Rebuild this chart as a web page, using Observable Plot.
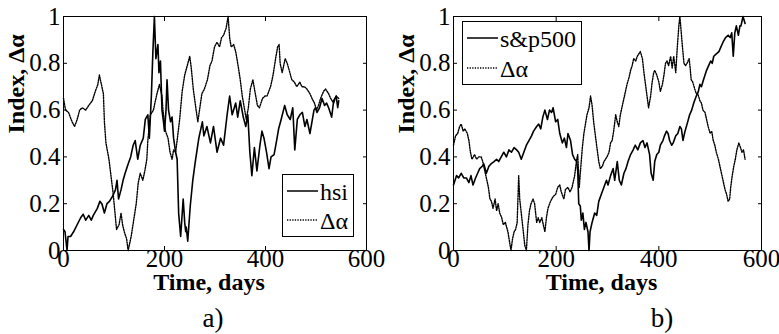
<!DOCTYPE html>
<html>
<head>
<meta charset="utf-8">
<script src="https://cdn.jsdelivr.net/npm/d3@7"></script>
<script src="https://cdn.jsdelivr.net/npm/@observablehq/plot@0.6"></script>
<style>
  body { margin: 0; background: #fff; }
  #wrap { position: relative; width: 779px; height: 334px; overflow: hidden; font-family: "Liberation Serif", "Times New Roman", Times, serif; color: #000; }
  .panel { position: absolute; top: 0; }
  .panel svg, .panel svg text { font-family: "Liberation Serif", "Times New Roman", Times, serif !important; }
  .legend { position: absolute; box-sizing: border-box; border: 1.3px solid #000; background: #fff; }
  .legend svg { position: absolute; left: 0; top: 0; overflow: visible; }
  .legend svg text { font-family: "Liberation Serif", "Times New Roman", Times, serif; }
  .cap { position: absolute; font-size: 27px; line-height: 1; }
</style>
</head>
<body>
<div id="wrap">
  <div class="panel" id="pa" style="left:0px"></div>
  <div class="panel" id="pb" style="left:389px"></div>
</div>
<script>
// ---------- data ----------
const xTicks = [0, 200, 400, 600];
const yTicks = [0, 0.2, 0.4, 0.6, 0.8, 1];

// Panel a) : hsi index (solid)
const hsiDays = [0,3,6,7,9,14,20,27,34,39,44,50,55,59,67,72,76,81,86,91,98,103,106,109,114,118,122,128,133,138,142,147,152,158,162,167,170,174,177,180,183,187,189,192,195,198,200,203,205,208,212,215,218,222,225,228,232,237,240,242,243,246,251,256,261,268,275,278,284,291,297,304,311,317,324,329,334,341,345,350,356,361,365,369,373,378,383,389,393,397,402,407,411,417,422,426,431,438,443,449,454,458,463,468,473,478,482,488,492,496,499,502,507,512,517,521,525,531,535,540,543,545];
const hsiValues = [0.09,0.08,0.02,0.0,0.06,0.06,0.08,0.11,0.14,0.155,0.13,0.15,0.13,0.15,0.18,0.21,0.2,0.16,0.2,0.21,0.235,0.26,0.3,0.22,0.26,0.3,0.33,0.37,0.4,0.45,0.47,0.39,0.45,0.48,0.56,0.58,0.48,0.66,0.85,1.0,0.82,0.88,0.76,0.81,0.6,0.55,0.51,0.6,0.73,0.6,0.55,0.57,0.48,0.42,0.39,0.16,0.06,0.22,0.12,0.08,0.1,0.04,0.19,0.3,0.38,0.48,0.55,0.49,0.53,0.46,0.53,0.42,0.48,0.45,0.58,0.66,0.58,0.63,0.57,0.64,0.57,0.53,0.58,0.42,0.32,0.44,0.34,0.45,0.51,0.48,0.42,0.35,0.4,0.41,0.47,0.52,0.56,0.62,0.58,0.56,0.61,0.43,0.56,0.58,0.59,0.53,0.56,0.5,0.55,0.6,0.61,0.59,0.61,0.65,0.62,0.63,0.61,0.57,0.64,0.66,0.61,0.64];

// Panel a) : delta alpha (dotted)
const alphaADays = [0,4,10,17,22,27,32,37,44,50,57,63,68,71,75,79,81,84,90,94,98,102,105,110,114,117,121,125,128,131,134,139,144,148,152,157,161,165,167,172,178,185,190,195,197,202,207,211,215,218,222,225,230,235,240,245,250,253,257,262,266,270,274,279,285,290,294,299,304,309,313,317,322,326,329,332,337,341,345,350,354,358,362,366,370,375,379,384,388,394,399,403,410,415,420,424,427,429,433,436,439,443,447,452,457,462,468,472,477,482,488,492,497,501,505,509,515,519,525,529,535,540,545];
const alphaAValues = [0.65,0.6,0.59,0.55,0.53,0.56,0.6,0.61,0.6,0.62,0.64,0.68,0.71,0.75,0.71,0.67,0.55,0.46,0.39,0.32,0.25,0.16,0.09,0.11,0.16,0.11,0.075,0.05,0.0,0.03,0.06,0.13,0.2,0.29,0.33,0.3,0.34,0.39,0.47,0.58,0.6,0.67,0.71,0.66,0.6,0.51,0.48,0.42,0.39,0.43,0.42,0.47,0.56,0.68,0.75,0.79,0.83,0.78,0.69,0.61,0.55,0.61,0.67,0.69,0.73,0.79,0.81,0.87,0.89,0.87,0.91,0.92,0.95,1.0,0.91,0.87,0.88,0.85,0.8,0.73,0.66,0.61,0.56,0.61,0.69,0.73,0.68,0.62,0.61,0.65,0.66,0.66,0.7,0.75,0.82,0.87,0.88,0.8,0.76,0.79,0.82,0.8,0.77,0.73,0.72,0.7,0.72,0.7,0.7,0.69,0.67,0.65,0.63,0.6,0.62,0.65,0.68,0.69,0.67,0.65,0.63,0.66,0.65];

// Panel b) : s&p500 index (solid)
const spDays = [0,6,10,15,20,25,30,34,38,43,47,51,56,59,64,69,73,79,84,88,93,98,103,108,113,118,123,127,132,137,142,147,152,156,162,166,170,174,178,183,187,191,194,199,203,207,212,216,220,223,228,232,236,240,242,244,247,249,252,255,258,262,264,266,270,275,279,283,288,293,298,301,306,311,314,319,323,327,332,336,340,345,350,354,359,364,369,373,377,382,385,389,392,396,400,403,408,411,415,418,421,425,428,433,437,441,444,447,451,455,460,464,468,473,477,480,483,487,490,493,497,501,504,507,512,517,521,525,530,535,539,542,545,548,551,555,558,560,564,568];
const spValues = [0.28,0.32,0.31,0.33,0.31,0.31,0.29,0.32,0.28,0.31,0.33,0.35,0.36,0.37,0.33,0.36,0.37,0.38,0.39,0.38,0.4,0.42,0.4,0.43,0.42,0.44,0.43,0.42,0.39,0.42,0.45,0.47,0.49,0.51,0.53,0.54,0.52,0.57,0.6,0.56,0.6,0.59,0.61,0.55,0.56,0.5,0.46,0.48,0.44,0.5,0.47,0.41,0.39,0.38,0.34,0.2,0.19,0.13,0.16,0.09,0.12,0.08,0.0,0.08,0.12,0.16,0.15,0.21,0.24,0.27,0.3,0.28,0.32,0.35,0.3,0.38,0.3,0.28,0.33,0.35,0.38,0.41,0.43,0.45,0.43,0.46,0.47,0.44,0.46,0.41,0.33,0.3,0.38,0.41,0.42,0.45,0.47,0.49,0.51,0.5,0.47,0.45,0.46,0.49,0.5,0.53,0.52,0.47,0.51,0.54,0.58,0.6,0.63,0.66,0.68,0.71,0.7,0.73,0.75,0.77,0.79,0.81,0.8,0.83,0.84,0.85,0.87,0.89,0.91,0.92,0.91,0.93,0.83,0.93,0.96,0.92,0.96,0.96,1.0,0.97];

// Panel b) : delta alpha (dotted)
const alphaBDays = [0,4,8,12,15,19,22,27,30,33,36,41,45,49,54,57,60,64,68,71,74,77,81,84,87,90,94,97,101,106,109,112,115,118,121,124,127,129,133,136,139,142,145,148,151,155,158,162,165,168,172,175,178,181,184,189,194,199,203,207,210,215,218,223,227,231,236,240,242,245,247,251,254,257,260,264,267,270,273,277,280,283,286,290,293,296,299,303,306,309,312,316,319,322,325,329,332,335,338,342,345,348,351,355,358,361,364,368,371,374,377,380,384,387,390,392,396,400,403,407,410,413,416,419,423,426,429,433,436,439,441,443,446,449,452,455,459,461,463,466,470,473,476,480,483,486,490,493,496,500,503,506,509,512,516,519,522,526,529,532,535,538,540,543,546,549,552,556,559,562,565,568];
const alphaBValues = [0.45,0.49,0.5,0.53,0.54,0.51,0.52,0.5,0.47,0.42,0.39,0.41,0.39,0.4,0.4,0.38,0.35,0.31,0.27,0.22,0.21,0.18,0.22,0.17,0.2,0.16,0.14,0.11,0.12,0.08,0.04,0.0,0.05,0.08,0.09,0.12,0.32,0.22,0.14,0.08,0.02,0.0,0.11,0.17,0.2,0.22,0.2,0.12,0.14,0.12,0.14,0.11,0.08,0.14,0.18,0.21,0.23,0.24,0.27,0.28,0.25,0.22,0.26,0.27,0.25,0.27,0.32,0.39,0.41,0.27,0.33,0.44,0.5,0.54,0.58,0.61,0.66,0.62,0.55,0.48,0.43,0.38,0.35,0.36,0.38,0.39,0.4,0.42,0.46,0.47,0.51,0.58,0.55,0.53,0.58,0.62,0.65,0.68,0.71,0.74,0.77,0.79,0.82,0.81,0.83,0.84,0.85,0.82,0.76,0.71,0.66,0.61,0.66,0.72,0.76,0.77,0.75,0.72,0.68,0.71,0.75,0.8,0.81,0.79,0.83,0.78,0.83,0.76,0.87,0.96,1.0,0.95,0.87,0.8,0.79,0.8,0.82,0.78,0.73,0.72,0.69,0.67,0.67,0.64,0.63,0.6,0.59,0.56,0.53,0.5,0.51,0.47,0.45,0.42,0.39,0.36,0.33,0.29,0.26,0.24,0.21,0.22,0.27,0.32,0.36,0.39,0.43,0.46,0.44,0.42,0.43,0.39];

// ---------- drawing ----------
const zip = (days, vals) => days.map((t, i) => ({t, v: vals[i]}));
const fmt = d3.format("~g");
const FONT = "'Liberation Serif', 'Times New Roman', Times, serif";

function panel({solid, dotted, marginLeft, marginRight}) {
  return Plot.plot({
    width: 390,
    height: 334,
    marginLeft,
    marginRight,
    marginTop: 16,
    marginBottom: 84,
    x: {domain: [0, 600]},
    y: {domain: [0, 1]},
    style: {fontFamily: FONT, fontSize: "25px", background: "white", color: "black", overflow: "visible"},
    marks: [
      Plot.line(dotted, {x: "t", y: "v", stroke: "black", strokeWidth: 1.4, strokeDasharray: "1.3 1.3"}),
      Plot.line(solid, {x: "t", y: "v", stroke: "black", strokeWidth: 1.6}),
      Plot.frame({stroke: "black", strokeWidth: 1}),
      Plot.axisX({ticks: xTicks, tickSize: -4, tickPadding: 3, tickFormat: fmt, label: null}),
      Plot.axisX({anchor: "top", ticks: xTicks, tickSize: -4, tickFormat: () => "", label: null}),
      Plot.axisY({ticks: yTicks, tickSize: -4, tickPadding: 7, tickFormat: fmt, label: null}),
      Plot.axisY({anchor: "right", ticks: yTicks, tickSize: -4, tickFormat: () => "", label: null}),
      Plot.text(["Time, days"], {frameAnchor: "bottom", dy: 39, dx: -6, fontWeight: "bold", fontSize: 24}),
      Plot.text(["Index, \u0394\u03b1"], {frameAnchor: "left", rotate: -90, dx: -47, fontWeight: "bold", fontSize: 24})
    ]
  });
}

document.getElementById("pa").appendChild(panel({
  solid: zip(hsiDays, hsiValues), dotted: zip(alphaADays, alphaAValues), marginLeft: 63, marginRight: 24
}));
document.getElementById("pb").appendChild(panel({
  solid: zip(spDays, spValues), dotted: zip(alphaBDays, alphaBValues), marginLeft: 64, marginRight: 18
}));

// legends and captions
function legend(left, top, w, h, labels, rowYs, textSize) {
  const div = document.createElement("div");
  div.className = "legend";
  Object.assign(div.style, {left: left + "px", top: top + "px", width: w + "px", height: h + "px"});
  const ns = "http://www.w3.org/2000/svg";
  const svg = document.createElementNS(ns, "svg");
  svg.setAttribute("width", w); svg.setAttribute("height", h);
  labels.forEach((lab, i) => {
    const y = rowYs[i];
    const line = document.createElementNS(ns, "line");
    line.setAttribute("x1", 4); line.setAttribute("x2", 35);
    line.setAttribute("y1", y); line.setAttribute("y2", y);
    line.setAttribute("stroke", "black");
    line.setAttribute("stroke-width", i === 0 ? 1.5 : 1.3);
    if (i === 1) line.setAttribute("stroke-dasharray", "1.3 1.3");
    svg.appendChild(line);
    const tx = document.createElementNS(ns, "text");
    tx.setAttribute("x", 37); tx.setAttribute("y", y + 9);
    tx.setAttribute("font-size", textSize);
    tx.textContent = lab;
    svg.appendChild(tx);
  });
  div.appendChild(svg);
  document.getElementById("wrap").appendChild(div);
}
legend(282, 174, 72, 63, ["hsi", "\u0394\u03b1"], [16, 45], 24);
legend(462, 21, 120, 64, ["s&p500", "\u0394\u03b1"], [16, 46], 24);

function caption(text, cx, top) {
  const d = document.createElement("div");
  d.className = "cap"; d.textContent = text;
  d.style.top = top + "px"; d.style.left = cx + "px"; d.style.transform = "translateX(-50%)";
  document.getElementById("wrap").appendChild(d);
}
caption("a)", 213, 305);
caption("b)", 662, 305);
</script>
</body>
</html>
